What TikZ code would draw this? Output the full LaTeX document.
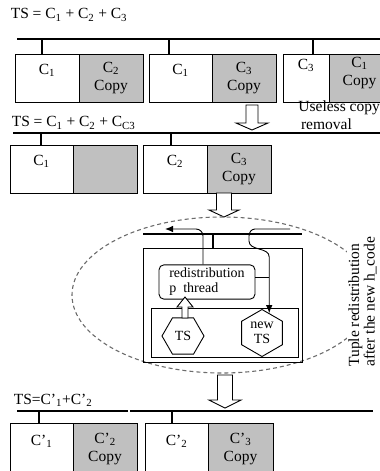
\documentclass[tikz,border=0pt]{standalone}
\usepackage{fontspec}
\setmainfont{Liberation Serif}
\usetikzlibrary{shapes.geometric, arrows.meta, positioning}
\definecolor{copygray}{RGB}{192,192,192}
\tikzstyle{every node}=[font=\fontsize{15.5}{18}\selectfont]
\tikzstyle{cell}=[draw,rectangle,outer sep=0pt,inner sep=0pt,minimum height=48,align=center]
\tikzstyle{copycell}=[cell,fill=copygray]
\tikzstyle{bus}=[line width=2.5pt]
\tikzstyle{hexa}=[draw,regular polygon,regular polygon sides=6,inner sep=0pt,align=center,font=\fontsize{14}{15}\selectfont]
\newcommand{\csub}[1]{\textsubscript{#1}}
% hollow arrow: x, tail y, head base y, tip y, half shaft, half head
\newcommand{\fatarrow}[6]{\draw[fill=white] ({#1-#5},#2) -- ({#1+#5},#2) -- ({#1+#5},#3) -- ({#1+#6},#3) -- (#1,#4) -- ({#1-#6},#3) -- ({#1-#5},#3) -- cycle;}

\begin{document}
\begin{tikzpicture}[x=1pt,y=-1pt,line width=0.9pt,>={Latex[length=8pt,width=6.5pt]}]
    \useasboundingbox (0,0) rectangle (380,471);
    % first distribution
    \node[anchor=west] (ts1) at (7,15) {TS = C\csub{1} + C\csub{2} + C\csub{3}};
    \draw[bus] (17,39) -- (385,39);
    \node[cell, minimum width=64, anchor=north west] (b11) at (15,54) {C\csub{1}\\\mbox{}};
    \node[copycell, minimum width=64, right=0pt of b11] (b12) {C\csub{2}\\Copy};
    \node[cell, minimum width=63, anchor=north west] (b21) at (149,54) {C\csub{1}\\\mbox{}};
    \node[copycell, minimum width=64, right=0pt of b21] (b22) {C\csub{3}\\Copy};
    \node[cell, minimum width=46, anchor=north west,
        label={[yshift=5,align=center]center:{C\csub{3}\\\mbox{}}}] (b31) at (283,54) {};
    \node[copycell, minimum width=61, right=0pt of b31,
        label={[yshift=5,align=center]center:{C\csub{1}\\Copy}}] (b32) {};
    \draw[bus] ([xshift=27]b11.north west) -- ++(0,-15);
    \draw[bus] ([xshift=20]b21.north west) -- ++(0,-15);
    \draw[bus] ([xshift=30]b31.north west) -- ++(0,-15);
    \fatarrow{252}{105}{123}{130}{6}{16}
    \node[anchor=north west, align=left, inner sep=0pt] (useless) at (298,100) {Useless copy\\\,removal};
    % after removal
    \node[anchor=west] (ts2) at (8,123) {TS = C\csub{1} + C\csub{2} + C\csub{C3}};
    \draw[bus] (13,133) -- (385,133);
    \node[cell, minimum width=63, anchor=north west] (b41) at (10,145) {C\csub{1}\\\mbox{}};
    \node[copycell, minimum width=64, right=0pt of b41] (b42) {};
    \node[cell, minimum width=64, anchor=north west] (b51) at (143,145) {C\csub{2}\\\mbox{}};
    \node[copycell, minimum width=64, right=0pt of b51] (b52) {C\csub{3}\\Copy};
    \draw[bus] ([xshift=31]b41.north west) -- ++(0,-12);
    \draw[bus] ([xshift=28]b51.north west) -- ++(0,-12);
    \fatarrow{224}{193}{210}{217}{7.5}{15}
    % redistribution
    \draw[gray!85!black, line width=1.1pt, dash pattern=on 4pt off 3pt] (222,295) ellipse [x radius=150pt, y radius=78pt];
    \draw[bus] (143,234) -- (302,234);
    \node[draw, outer sep=0pt, minimum width=159, minimum height=114, anchor=north west] (tsbox) at (143,248) {};
    \draw[bus] ([xshift=70]tsbox.north west) -- ++(0,-14);
    \node[draw, rounded corners=5, minimum width=96, minimum height=30, align=left,
        font=\fontsize{14}{15}\selectfont] (redist) at (207,282) {redistribution\\p\ \ thread};
    \node[draw, outer sep=0pt, minimum width=147, minimum height=49, anchor=north west] (pool) at (151,308) {};
    \node[hexa, minimum size=42] (oldts) at (183,336) {TS};
    \node[hexa, minimum size=47, shape border rotate=30] (newts) at (262,333) {new\\TS};
    \fatarrow{185}{318}{307}{297}{3}{8}
    \draw[->] ([xshift=-4]redist.north) -- (203,236) to[out=90,in=0] (196,229) -- (165,229);
    \draw[->] (290,229) -- (255,229) to[out=180,in=90] (249,236) -- (249,241)
        to[out=270,in=90] (newts.70 |- 0,257) -- (newts.70);
    \draw ([yshift=5]redist.east) -- ([yshift=5]redist.east -| newts.70);
    \node[rotate=90, anchor=north west, align=left, fill=white, inner sep=1pt,
        font=\fontsize{15.5}{15.5}\selectfont] (note) at (347,368) {Tuple redistribution\\after the new h\_code};
    \fatarrow{225}{375}{400}{408}{7.5}{16}
    % new distribution
    \node[anchor=west] (ts3) at (10,400) {TS=C'\csub{1}+C'\csub{2}};
    \draw[bus] (17,411) -- (128,411);
    \draw[bus] (130,411) -- (373,411);
    \node[cell, minimum width=63, minimum height=52, anchor=north west] (b61) at (10,423) {C'\csub{1}\\\mbox{}};
    \node[copycell, minimum width=64, minimum height=52, right=0pt of b61] (b62) {C'\csub{2}\\Copy};
    \node[cell, minimum width=63, minimum height=52, anchor=north west] (b71) at (145,423) {C'\csub{2}\\\mbox{}};
    \node[copycell, minimum width=65, minimum height=52, right=0pt of b71] (b72) {C'\csub{3}\\Copy};
    \draw[bus] ([xshift=29]b61.north west) -- ++(0,-12);
    \draw[bus] ([xshift=27]b71.north west) -- ++(0,-12);
\end{tikzpicture}
\end{document}
